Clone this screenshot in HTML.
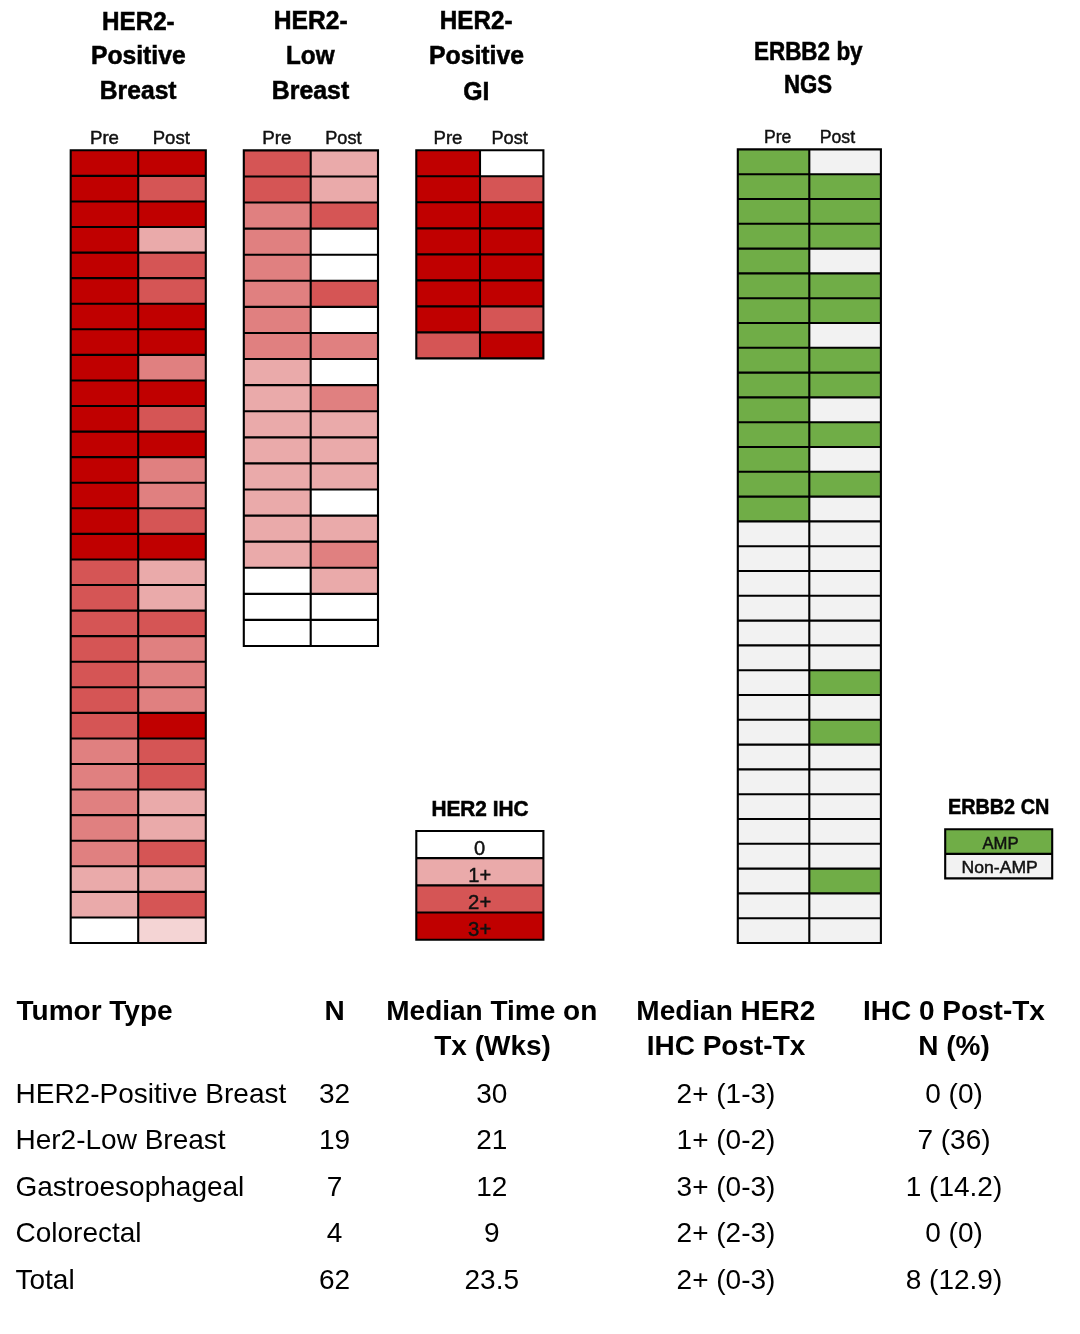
<!DOCTYPE html>
<html><head><meta charset="utf-8"><style>
html,body{margin:0;padding:0;background:#fff;width:1080px;height:1334px;overflow:hidden}
svg{display:block;will-change:transform}
text{font-family:"Liberation Sans",sans-serif;fill:#000}
.tt{font-weight:bold;font-size:24px;text-anchor:middle}
.lt{font-weight:bold;font-size:20.5px;text-anchor:middle}
.pp{font-size:17.5px;text-anchor:middle;fill:#1a1a1a}
.lg{text-anchor:middle;fill:#1a1a1a}
.th{font-weight:bold;font-size:28px}
.td{font-size:28px}
</style></head><body>
<svg width="1080" height="1334" viewBox="0 0 1080 1334">
<rect x="70.70" y="150.30" width="67.50" height="25.57" fill="#C00000"/>
<rect x="138.20" y="150.30" width="67.60" height="25.57" fill="#C00000"/>
<rect x="70.70" y="175.87" width="67.50" height="25.57" fill="#C00000"/>
<rect x="138.20" y="175.87" width="67.60" height="25.57" fill="#D55555"/>
<rect x="70.70" y="201.44" width="67.50" height="25.57" fill="#C00000"/>
<rect x="138.20" y="201.44" width="67.60" height="25.57" fill="#C00000"/>
<rect x="70.70" y="227.01" width="67.50" height="25.57" fill="#C00000"/>
<rect x="138.20" y="227.01" width="67.60" height="25.57" fill="#EAAAAA"/>
<rect x="70.70" y="252.58" width="67.50" height="25.57" fill="#C00000"/>
<rect x="138.20" y="252.58" width="67.60" height="25.57" fill="#D55555"/>
<rect x="70.70" y="278.15" width="67.50" height="25.57" fill="#C00000"/>
<rect x="138.20" y="278.15" width="67.60" height="25.57" fill="#D55555"/>
<rect x="70.70" y="303.73" width="67.50" height="25.57" fill="#C00000"/>
<rect x="138.20" y="303.73" width="67.60" height="25.57" fill="#C00000"/>
<rect x="70.70" y="329.30" width="67.50" height="25.57" fill="#C00000"/>
<rect x="138.20" y="329.30" width="67.60" height="25.57" fill="#C00000"/>
<rect x="70.70" y="354.87" width="67.50" height="25.57" fill="#C00000"/>
<rect x="138.20" y="354.87" width="67.60" height="25.57" fill="#E08080"/>
<rect x="70.70" y="380.44" width="67.50" height="25.57" fill="#C00000"/>
<rect x="138.20" y="380.44" width="67.60" height="25.57" fill="#C00000"/>
<rect x="70.70" y="406.01" width="67.50" height="25.57" fill="#C00000"/>
<rect x="138.20" y="406.01" width="67.60" height="25.57" fill="#D55555"/>
<rect x="70.70" y="431.58" width="67.50" height="25.57" fill="#C00000"/>
<rect x="138.20" y="431.58" width="67.60" height="25.57" fill="#C00000"/>
<rect x="70.70" y="457.15" width="67.50" height="25.57" fill="#C00000"/>
<rect x="138.20" y="457.15" width="67.60" height="25.57" fill="#E08080"/>
<rect x="70.70" y="482.72" width="67.50" height="25.57" fill="#C00000"/>
<rect x="138.20" y="482.72" width="67.60" height="25.57" fill="#E08080"/>
<rect x="70.70" y="508.29" width="67.50" height="25.57" fill="#C00000"/>
<rect x="138.20" y="508.29" width="67.60" height="25.57" fill="#D55555"/>
<rect x="70.70" y="533.86" width="67.50" height="25.57" fill="#C00000"/>
<rect x="138.20" y="533.86" width="67.60" height="25.57" fill="#C00000"/>
<rect x="70.70" y="559.44" width="67.50" height="25.57" fill="#D55555"/>
<rect x="138.20" y="559.44" width="67.60" height="25.57" fill="#EAAAAA"/>
<rect x="70.70" y="585.01" width="67.50" height="25.57" fill="#D55555"/>
<rect x="138.20" y="585.01" width="67.60" height="25.57" fill="#EAAAAA"/>
<rect x="70.70" y="610.58" width="67.50" height="25.57" fill="#D55555"/>
<rect x="138.20" y="610.58" width="67.60" height="25.57" fill="#D55555"/>
<rect x="70.70" y="636.15" width="67.50" height="25.57" fill="#D55555"/>
<rect x="138.20" y="636.15" width="67.60" height="25.57" fill="#E08080"/>
<rect x="70.70" y="661.72" width="67.50" height="25.57" fill="#D55555"/>
<rect x="138.20" y="661.72" width="67.60" height="25.57" fill="#E08080"/>
<rect x="70.70" y="687.29" width="67.50" height="25.57" fill="#D55555"/>
<rect x="138.20" y="687.29" width="67.60" height="25.57" fill="#E08080"/>
<rect x="70.70" y="712.86" width="67.50" height="25.57" fill="#D55555"/>
<rect x="138.20" y="712.86" width="67.60" height="25.57" fill="#C00000"/>
<rect x="70.70" y="738.43" width="67.50" height="25.57" fill="#E08080"/>
<rect x="138.20" y="738.43" width="67.60" height="25.57" fill="#D55555"/>
<rect x="70.70" y="764.00" width="67.50" height="25.57" fill="#E08080"/>
<rect x="138.20" y="764.00" width="67.60" height="25.57" fill="#D55555"/>
<rect x="70.70" y="789.57" width="67.50" height="25.57" fill="#E08080"/>
<rect x="138.20" y="789.57" width="67.60" height="25.57" fill="#EAAAAA"/>
<rect x="70.70" y="815.15" width="67.50" height="25.57" fill="#E08080"/>
<rect x="138.20" y="815.15" width="67.60" height="25.57" fill="#EAAAAA"/>
<rect x="70.70" y="840.72" width="67.50" height="25.57" fill="#E08080"/>
<rect x="138.20" y="840.72" width="67.60" height="25.57" fill="#D55555"/>
<rect x="70.70" y="866.29" width="67.50" height="25.57" fill="#EAAAAA"/>
<rect x="138.20" y="866.29" width="67.60" height="25.57" fill="#EAAAAA"/>
<rect x="70.70" y="891.86" width="67.50" height="25.57" fill="#EAAAAA"/>
<rect x="138.20" y="891.86" width="67.60" height="25.57" fill="#D55555"/>
<rect x="70.70" y="917.43" width="67.50" height="25.57" fill="#FFFFFF"/>
<rect x="138.20" y="917.43" width="67.60" height="25.57" fill="#F4D4D4"/>
<path d="M69.65 150.30H206.85M69.65 175.87H206.85M69.65 201.44H206.85M69.65 227.01H206.85M69.65 252.58H206.85M69.65 278.15H206.85M69.65 303.73H206.85M69.65 329.30H206.85M69.65 354.87H206.85M69.65 380.44H206.85M69.65 406.01H206.85M69.65 431.58H206.85M69.65 457.15H206.85M69.65 482.72H206.85M69.65 508.29H206.85M69.65 533.86H206.85M69.65 559.44H206.85M69.65 585.01H206.85M69.65 610.58H206.85M69.65 636.15H206.85M69.65 661.72H206.85M69.65 687.29H206.85M69.65 712.86H206.85M69.65 738.43H206.85M69.65 764.00H206.85M69.65 789.57H206.85M69.65 815.15H206.85M69.65 840.72H206.85M69.65 866.29H206.85M69.65 891.86H206.85M69.65 917.43H206.85M69.65 943.00H206.85M70.70 150.30V943.00M138.20 150.30V943.00M205.80 150.30V943.00" stroke="#000" stroke-width="2.1" fill="none"/>
<rect x="243.80" y="150.40" width="66.90" height="26.08" fill="#D55555"/>
<rect x="310.70" y="150.40" width="67.30" height="26.08" fill="#EAAAAA"/>
<rect x="243.80" y="176.48" width="66.90" height="26.08" fill="#D55555"/>
<rect x="310.70" y="176.48" width="67.30" height="26.08" fill="#EAAAAA"/>
<rect x="243.80" y="202.57" width="66.90" height="26.08" fill="#E08080"/>
<rect x="310.70" y="202.57" width="67.30" height="26.08" fill="#D55555"/>
<rect x="243.80" y="228.65" width="66.90" height="26.08" fill="#E08080"/>
<rect x="310.70" y="228.65" width="67.30" height="26.08" fill="#FFFFFF"/>
<rect x="243.80" y="254.74" width="66.90" height="26.08" fill="#E08080"/>
<rect x="310.70" y="254.74" width="67.30" height="26.08" fill="#FFFFFF"/>
<rect x="243.80" y="280.82" width="66.90" height="26.08" fill="#E08080"/>
<rect x="310.70" y="280.82" width="67.30" height="26.08" fill="#D55555"/>
<rect x="243.80" y="306.91" width="66.90" height="26.08" fill="#E08080"/>
<rect x="310.70" y="306.91" width="67.30" height="26.08" fill="#FFFFFF"/>
<rect x="243.80" y="332.99" width="66.90" height="26.08" fill="#E08080"/>
<rect x="310.70" y="332.99" width="67.30" height="26.08" fill="#E08080"/>
<rect x="243.80" y="359.07" width="66.90" height="26.08" fill="#EAAAAA"/>
<rect x="310.70" y="359.07" width="67.30" height="26.08" fill="#FFFFFF"/>
<rect x="243.80" y="385.16" width="66.90" height="26.08" fill="#EAAAAA"/>
<rect x="310.70" y="385.16" width="67.30" height="26.08" fill="#E08080"/>
<rect x="243.80" y="411.24" width="66.90" height="26.08" fill="#EAAAAA"/>
<rect x="310.70" y="411.24" width="67.30" height="26.08" fill="#EAAAAA"/>
<rect x="243.80" y="437.33" width="66.90" height="26.08" fill="#EAAAAA"/>
<rect x="310.70" y="437.33" width="67.30" height="26.08" fill="#EAAAAA"/>
<rect x="243.80" y="463.41" width="66.90" height="26.08" fill="#EAAAAA"/>
<rect x="310.70" y="463.41" width="67.30" height="26.08" fill="#EAAAAA"/>
<rect x="243.80" y="489.49" width="66.90" height="26.08" fill="#EAAAAA"/>
<rect x="310.70" y="489.49" width="67.30" height="26.08" fill="#FFFFFF"/>
<rect x="243.80" y="515.58" width="66.90" height="26.08" fill="#EAAAAA"/>
<rect x="310.70" y="515.58" width="67.30" height="26.08" fill="#EAAAAA"/>
<rect x="243.80" y="541.66" width="66.90" height="26.08" fill="#EAAAAA"/>
<rect x="310.70" y="541.66" width="67.30" height="26.08" fill="#E08080"/>
<rect x="243.80" y="567.75" width="66.90" height="26.08" fill="#FFFFFF"/>
<rect x="310.70" y="567.75" width="67.30" height="26.08" fill="#EAAAAA"/>
<rect x="243.80" y="593.83" width="66.90" height="26.08" fill="#FFFFFF"/>
<rect x="310.70" y="593.83" width="67.30" height="26.08" fill="#FFFFFF"/>
<rect x="243.80" y="619.92" width="66.90" height="26.08" fill="#FFFFFF"/>
<rect x="310.70" y="619.92" width="67.30" height="26.08" fill="#FFFFFF"/>
<path d="M242.75 150.40H379.05M242.75 176.48H379.05M242.75 202.57H379.05M242.75 228.65H379.05M242.75 254.74H379.05M242.75 280.82H379.05M242.75 306.91H379.05M242.75 332.99H379.05M242.75 359.07H379.05M242.75 385.16H379.05M242.75 411.24H379.05M242.75 437.33H379.05M242.75 463.41H379.05M242.75 489.49H379.05M242.75 515.58H379.05M242.75 541.66H379.05M242.75 567.75H379.05M242.75 593.83H379.05M242.75 619.92H379.05M242.75 646.00H379.05M243.80 150.40V646.00M310.70 150.40V646.00M378.00 150.40V646.00" stroke="#000" stroke-width="2.1" fill="none"/>
<rect x="416.30" y="150.30" width="63.70" height="26.01" fill="#C00000"/>
<rect x="480.00" y="150.30" width="63.40" height="26.01" fill="#FFFFFF"/>
<rect x="416.30" y="176.31" width="63.70" height="26.01" fill="#C00000"/>
<rect x="480.00" y="176.31" width="63.40" height="26.01" fill="#D55555"/>
<rect x="416.30" y="202.32" width="63.70" height="26.01" fill="#C00000"/>
<rect x="480.00" y="202.32" width="63.40" height="26.01" fill="#C00000"/>
<rect x="416.30" y="228.34" width="63.70" height="26.01" fill="#C00000"/>
<rect x="480.00" y="228.34" width="63.40" height="26.01" fill="#C00000"/>
<rect x="416.30" y="254.35" width="63.70" height="26.01" fill="#C00000"/>
<rect x="480.00" y="254.35" width="63.40" height="26.01" fill="#C00000"/>
<rect x="416.30" y="280.36" width="63.70" height="26.01" fill="#C00000"/>
<rect x="480.00" y="280.36" width="63.40" height="26.01" fill="#C00000"/>
<rect x="416.30" y="306.38" width="63.70" height="26.01" fill="#C00000"/>
<rect x="480.00" y="306.38" width="63.40" height="26.01" fill="#D55555"/>
<rect x="416.30" y="332.39" width="63.70" height="26.01" fill="#D55555"/>
<rect x="480.00" y="332.39" width="63.40" height="26.01" fill="#C00000"/>
<path d="M415.25 150.30H544.45M415.25 176.31H544.45M415.25 202.32H544.45M415.25 228.34H544.45M415.25 254.35H544.45M415.25 280.36H544.45M415.25 306.38H544.45M415.25 332.39H544.45M415.25 358.40H544.45M416.30 150.30V358.40M480.00 150.30V358.40M543.40 150.30V358.40" stroke="#000" stroke-width="2.1" fill="none"/>
<rect x="737.80" y="149.40" width="71.50" height="24.80" fill="#70AD47"/>
<rect x="809.30" y="149.40" width="71.60" height="24.80" fill="#F2F2F2"/>
<rect x="737.80" y="174.20" width="71.50" height="24.80" fill="#70AD47"/>
<rect x="809.30" y="174.20" width="71.60" height="24.80" fill="#70AD47"/>
<rect x="737.80" y="199.00" width="71.50" height="24.80" fill="#70AD47"/>
<rect x="809.30" y="199.00" width="71.60" height="24.80" fill="#70AD47"/>
<rect x="737.80" y="223.80" width="71.50" height="24.80" fill="#70AD47"/>
<rect x="809.30" y="223.80" width="71.60" height="24.80" fill="#70AD47"/>
<rect x="737.80" y="248.60" width="71.50" height="24.80" fill="#70AD47"/>
<rect x="809.30" y="248.60" width="71.60" height="24.80" fill="#F2F2F2"/>
<rect x="737.80" y="273.40" width="71.50" height="24.80" fill="#70AD47"/>
<rect x="809.30" y="273.40" width="71.60" height="24.80" fill="#70AD47"/>
<rect x="737.80" y="298.20" width="71.50" height="24.80" fill="#70AD47"/>
<rect x="809.30" y="298.20" width="71.60" height="24.80" fill="#70AD47"/>
<rect x="737.80" y="323.00" width="71.50" height="24.80" fill="#70AD47"/>
<rect x="809.30" y="323.00" width="71.60" height="24.80" fill="#F2F2F2"/>
<rect x="737.80" y="347.80" width="71.50" height="24.80" fill="#70AD47"/>
<rect x="809.30" y="347.80" width="71.60" height="24.80" fill="#70AD47"/>
<rect x="737.80" y="372.60" width="71.50" height="24.80" fill="#70AD47"/>
<rect x="809.30" y="372.60" width="71.60" height="24.80" fill="#70AD47"/>
<rect x="737.80" y="397.40" width="71.50" height="24.80" fill="#70AD47"/>
<rect x="809.30" y="397.40" width="71.60" height="24.80" fill="#F2F2F2"/>
<rect x="737.80" y="422.20" width="71.50" height="24.80" fill="#70AD47"/>
<rect x="809.30" y="422.20" width="71.60" height="24.80" fill="#70AD47"/>
<rect x="737.80" y="447.00" width="71.50" height="24.80" fill="#70AD47"/>
<rect x="809.30" y="447.00" width="71.60" height="24.80" fill="#F2F2F2"/>
<rect x="737.80" y="471.80" width="71.50" height="24.80" fill="#70AD47"/>
<rect x="809.30" y="471.80" width="71.60" height="24.80" fill="#70AD47"/>
<rect x="737.80" y="496.60" width="71.50" height="24.80" fill="#70AD47"/>
<rect x="809.30" y="496.60" width="71.60" height="24.80" fill="#F2F2F2"/>
<rect x="737.80" y="521.40" width="71.50" height="24.80" fill="#F2F2F2"/>
<rect x="809.30" y="521.40" width="71.60" height="24.80" fill="#F2F2F2"/>
<rect x="737.80" y="546.20" width="71.50" height="24.80" fill="#F2F2F2"/>
<rect x="809.30" y="546.20" width="71.60" height="24.80" fill="#F2F2F2"/>
<rect x="737.80" y="571.00" width="71.50" height="24.80" fill="#F2F2F2"/>
<rect x="809.30" y="571.00" width="71.60" height="24.80" fill="#F2F2F2"/>
<rect x="737.80" y="595.80" width="71.50" height="24.80" fill="#F2F2F2"/>
<rect x="809.30" y="595.80" width="71.60" height="24.80" fill="#F2F2F2"/>
<rect x="737.80" y="620.60" width="71.50" height="24.80" fill="#F2F2F2"/>
<rect x="809.30" y="620.60" width="71.60" height="24.80" fill="#F2F2F2"/>
<rect x="737.80" y="645.40" width="71.50" height="24.80" fill="#F2F2F2"/>
<rect x="809.30" y="645.40" width="71.60" height="24.80" fill="#F2F2F2"/>
<rect x="737.80" y="670.20" width="71.50" height="24.80" fill="#F2F2F2"/>
<rect x="809.30" y="670.20" width="71.60" height="24.80" fill="#70AD47"/>
<rect x="737.80" y="695.00" width="71.50" height="24.80" fill="#F2F2F2"/>
<rect x="809.30" y="695.00" width="71.60" height="24.80" fill="#F2F2F2"/>
<rect x="737.80" y="719.80" width="71.50" height="24.80" fill="#F2F2F2"/>
<rect x="809.30" y="719.80" width="71.60" height="24.80" fill="#70AD47"/>
<rect x="737.80" y="744.60" width="71.50" height="24.80" fill="#F2F2F2"/>
<rect x="809.30" y="744.60" width="71.60" height="24.80" fill="#F2F2F2"/>
<rect x="737.80" y="769.40" width="71.50" height="24.80" fill="#F2F2F2"/>
<rect x="809.30" y="769.40" width="71.60" height="24.80" fill="#F2F2F2"/>
<rect x="737.80" y="794.20" width="71.50" height="24.80" fill="#F2F2F2"/>
<rect x="809.30" y="794.20" width="71.60" height="24.80" fill="#F2F2F2"/>
<rect x="737.80" y="819.00" width="71.50" height="24.80" fill="#F2F2F2"/>
<rect x="809.30" y="819.00" width="71.60" height="24.80" fill="#F2F2F2"/>
<rect x="737.80" y="843.80" width="71.50" height="24.80" fill="#F2F2F2"/>
<rect x="809.30" y="843.80" width="71.60" height="24.80" fill="#F2F2F2"/>
<rect x="737.80" y="868.60" width="71.50" height="24.80" fill="#F2F2F2"/>
<rect x="809.30" y="868.60" width="71.60" height="24.80" fill="#70AD47"/>
<rect x="737.80" y="893.40" width="71.50" height="24.80" fill="#F2F2F2"/>
<rect x="809.30" y="893.40" width="71.60" height="24.80" fill="#F2F2F2"/>
<rect x="737.80" y="918.20" width="71.50" height="24.80" fill="#F2F2F2"/>
<rect x="809.30" y="918.20" width="71.60" height="24.80" fill="#F2F2F2"/>
<path d="M736.75 149.40H881.95M736.75 174.20H881.95M736.75 199.00H881.95M736.75 223.80H881.95M736.75 248.60H881.95M736.75 273.40H881.95M736.75 298.20H881.95M736.75 323.00H881.95M736.75 347.80H881.95M736.75 372.60H881.95M736.75 397.40H881.95M736.75 422.20H881.95M736.75 447.00H881.95M736.75 471.80H881.95M736.75 496.60H881.95M736.75 521.40H881.95M736.75 546.20H881.95M736.75 571.00H881.95M736.75 595.80H881.95M736.75 620.60H881.95M736.75 645.40H881.95M736.75 670.20H881.95M736.75 695.00H881.95M736.75 719.80H881.95M736.75 744.60H881.95M736.75 769.40H881.95M736.75 794.20H881.95M736.75 819.00H881.95M736.75 843.80H881.95M736.75 868.60H881.95M736.75 893.40H881.95M736.75 918.20H881.95M736.75 943.00H881.95M737.80 149.40V943.00M809.30 149.40V943.00M880.90 149.40V943.00" stroke="#000" stroke-width="2.1" fill="none"/>
<rect x="416.30" y="831.00" width="127.10" height="27.18" fill="#FFFFFF"/>
<rect x="416.30" y="858.17" width="127.10" height="27.18" fill="#EAAAAA"/>
<rect x="416.30" y="885.35" width="127.10" height="27.18" fill="#D55555"/>
<rect x="416.30" y="912.53" width="127.10" height="27.18" fill="#C00000"/>
<path d="M415.25 831.00H544.45M415.25 858.17H544.45M415.25 885.35H544.45M415.25 912.53H544.45M415.25 939.70H544.45M416.30 831.00V939.70M543.40 831.00V939.70" stroke="#000" stroke-width="2.1" fill="none"/>
<rect x="945.20" y="829.30" width="107.00" height="24.55" fill="#70AD47"/>
<rect x="945.20" y="853.85" width="107.00" height="24.55" fill="#F2F2F2"/>
<path d="M944.15 829.30H1053.25M944.15 853.85H1053.25M944.15 878.40H1053.25M945.20 829.30V878.40M1052.20 829.30V878.40" stroke="#000" stroke-width="2.1" fill="none"/>
<text x="102.00" y="29.70" textLength="72.68" lengthAdjust="spacingAndGlyphs" style="font-weight:bold;font-size:25.60px;fill:#000;stroke:#000;stroke-width:0.55px">HER2-</text>
<text x="90.96" y="64.45" textLength="94.69" lengthAdjust="spacingAndGlyphs" style="font-weight:bold;font-size:25.60px;fill:#000;stroke:#000;stroke-width:0.55px">Positive</text>
<text x="99.76" y="99.40" textLength="76.83" lengthAdjust="spacingAndGlyphs" style="font-weight:bold;font-size:25.60px;fill:#000;stroke:#000;stroke-width:0.55px">Breast</text>
<text x="273.75" y="29.35" textLength="73.93" lengthAdjust="spacingAndGlyphs" style="font-weight:bold;font-size:25.60px;fill:#000;stroke:#000;stroke-width:0.55px">HER2-</text>
<text x="286.00" y="64.30" textLength="48.50" lengthAdjust="spacingAndGlyphs" style="font-weight:bold;font-size:25.60px;fill:#000;stroke:#000;stroke-width:0.55px">Low</text>
<text x="271.74" y="99.00" textLength="77.45" lengthAdjust="spacingAndGlyphs" style="font-weight:bold;font-size:25.60px;fill:#000;stroke:#000;stroke-width:0.55px">Breast</text>
<text x="439.78" y="29.25" textLength="72.68" lengthAdjust="spacingAndGlyphs" style="font-weight:bold;font-size:25.60px;fill:#000;stroke:#000;stroke-width:0.55px">HER2-</text>
<text x="428.96" y="64.45" textLength="95.09" lengthAdjust="spacingAndGlyphs" style="font-weight:bold;font-size:25.60px;fill:#000;stroke:#000;stroke-width:0.55px">Positive</text>
<text x="463.31" y="100.40" textLength="26.18" lengthAdjust="spacingAndGlyphs" style="font-weight:bold;font-size:25.60px;fill:#000;stroke:#000;stroke-width:0.55px">GI</text>
<text x="753.89" y="59.65" textLength="108.76" lengthAdjust="spacingAndGlyphs" style="font-weight:bold;font-size:25.60px;fill:#000;stroke:#000;stroke-width:0.55px">ERBB2 by</text>
<text x="783.91" y="92.60" textLength="48.17" lengthAdjust="spacingAndGlyphs" style="font-weight:bold;font-size:25.60px;fill:#000;stroke:#000;stroke-width:0.55px">NGS</text>
<text x="431.42" y="816.35" textLength="97.12" lengthAdjust="spacingAndGlyphs" style="font-weight:bold;font-size:21.20px;fill:#000;stroke:#000;stroke-width:0.55px">HER2 IHC</text>
<text x="947.91" y="813.55" textLength="101.37" lengthAdjust="spacingAndGlyphs" style="font-weight:bold;font-size:21.20px;fill:#000;stroke:#000;stroke-width:0.55px">ERBB2 CN</text>
<text x="89.94" y="143.55" textLength="29.06" lengthAdjust="spacingAndGlyphs" style="font-weight:normal;font-size:17.70px;fill:#111;stroke:#111;stroke-width:0.45px">Pre</text>
<text x="152.72" y="143.55" textLength="37.10" lengthAdjust="spacingAndGlyphs" style="font-weight:normal;font-size:17.70px;fill:#111;stroke:#111;stroke-width:0.45px">Post</text>
<text x="262.19" y="143.65" textLength="29.29" lengthAdjust="spacingAndGlyphs" style="font-weight:normal;font-size:17.70px;fill:#111;stroke:#111;stroke-width:0.45px">Pre</text>
<text x="325.25" y="143.65" textLength="36.29" lengthAdjust="spacingAndGlyphs" style="font-weight:normal;font-size:17.70px;fill:#111;stroke:#111;stroke-width:0.45px">Post</text>
<text x="433.50" y="144.00" textLength="28.92" lengthAdjust="spacingAndGlyphs" style="font-weight:normal;font-size:17.70px;fill:#111;stroke:#111;stroke-width:0.45px">Pre</text>
<text x="491.46" y="144.00" textLength="36.46" lengthAdjust="spacingAndGlyphs" style="font-weight:normal;font-size:17.70px;fill:#111;stroke:#111;stroke-width:0.45px">Post</text>
<text x="764.01" y="143.45" textLength="27.35" lengthAdjust="spacingAndGlyphs" style="font-weight:normal;font-size:17.70px;fill:#111;stroke:#111;stroke-width:0.45px">Pre</text>
<text x="819.70" y="143.45" textLength="35.42" lengthAdjust="spacingAndGlyphs" style="font-weight:normal;font-size:17.70px;fill:#111;stroke:#111;stroke-width:0.45px">Post</text>
<text x="473.97" y="854.60" textLength="11.18" lengthAdjust="spacingAndGlyphs" style="font-weight:normal;font-size:19.60px;fill:#111;stroke:#111;stroke-width:0.45px">0</text>
<text x="468.24" y="882.40" textLength="22.87" lengthAdjust="spacingAndGlyphs" style="font-weight:normal;font-size:19.60px;fill:#111;stroke:#111;stroke-width:0.45px">1+</text>
<text x="468.11" y="908.55" textLength="23.12" lengthAdjust="spacingAndGlyphs" style="font-weight:normal;font-size:19.60px;fill:#111;stroke:#111;stroke-width:0.45px">2+</text>
<text x="468.11" y="935.55" textLength="23.12" lengthAdjust="spacingAndGlyphs" style="font-weight:normal;font-size:19.60px;fill:#111;stroke:#111;stroke-width:0.45px">3+</text>
<text x="982.44" y="848.60" textLength="36.11" lengthAdjust="spacingAndGlyphs" style="font-weight:normal;font-size:15.70px;fill:#111;stroke:#111;stroke-width:0.45px">AMP</text>
<text x="961.61" y="873.25" textLength="76.19" lengthAdjust="spacingAndGlyphs" style="font-weight:normal;font-size:15.70px;fill:#111;stroke:#111;stroke-width:0.45px">Non-AMP</text>
<text x="16.5" y="1020.2" class="th" text-anchor="start">Tumor Type</text>
<text x="334.5" y="1020.2" class="th" text-anchor="middle">N</text>
<text x="491.8" y="1020.2" class="th" text-anchor="middle">Median Time on</text>
<text x="492.6" y="1054.6" class="th" text-anchor="middle">Tx (Wks)</text>
<text x="725.8" y="1020.2" class="th" text-anchor="middle">Median HER2</text>
<text x="726" y="1054.6" class="th" text-anchor="middle">IHC Post-Tx</text>
<text x="953.9" y="1020.2" class="th" text-anchor="middle">IHC 0 Post-Tx</text>
<text x="954" y="1054.6" class="th" text-anchor="middle">N (%)</text>
<text x="15.5" y="1102.8" class="td" text-anchor="start">HER2-Positive Breast</text>
<text x="334.5" y="1102.8" class="td" text-anchor="middle">32</text>
<text x="491.8" y="1102.8" class="td" text-anchor="middle">30</text>
<text x="726" y="1102.8" class="td" text-anchor="middle">2+ (1-3)</text>
<text x="954" y="1102.8" class="td" text-anchor="middle">0 (0)</text>
<text x="15.5" y="1149.2" class="td" text-anchor="start">Her2-Low Breast</text>
<text x="334.5" y="1149.2" class="td" text-anchor="middle">19</text>
<text x="491.8" y="1149.2" class="td" text-anchor="middle">21</text>
<text x="726" y="1149.2" class="td" text-anchor="middle">1+ (0-2)</text>
<text x="954" y="1149.2" class="td" text-anchor="middle">7 (36)</text>
<text x="15.5" y="1195.6" class="td" text-anchor="start">Gastroesophageal</text>
<text x="334.5" y="1195.6" class="td" text-anchor="middle">7</text>
<text x="491.8" y="1195.6" class="td" text-anchor="middle">12</text>
<text x="726" y="1195.6" class="td" text-anchor="middle">3+ (0-3)</text>
<text x="954" y="1195.6" class="td" text-anchor="middle">1 (14.2)</text>
<text x="15.5" y="1242.2" class="td" text-anchor="start">Colorectal</text>
<text x="334.5" y="1242.2" class="td" text-anchor="middle">4</text>
<text x="491.8" y="1242.2" class="td" text-anchor="middle">9</text>
<text x="726" y="1242.2" class="td" text-anchor="middle">2+ (2-3)</text>
<text x="954" y="1242.2" class="td" text-anchor="middle">0 (0)</text>
<text x="15.5" y="1288.9" class="td" text-anchor="start">Total</text>
<text x="334.5" y="1288.9" class="td" text-anchor="middle">62</text>
<text x="491.8" y="1288.9" class="td" text-anchor="middle">23.5</text>
<text x="726" y="1288.9" class="td" text-anchor="middle">2+ (0-3)</text>
<text x="954" y="1288.9" class="td" text-anchor="middle">8 (12.9)</text>
</svg>
</body></html>
